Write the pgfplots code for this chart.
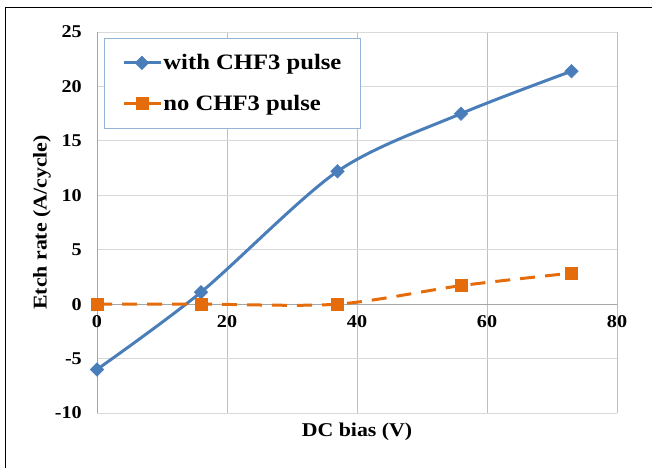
\documentclass[border=0pt]{standalone}
\usepackage{fontspec}
\setmainfont{Liberation Serif}[FakeStretch=1.12]
\usepackage{pgfplots}
\pgfplotsset{compat=1.18}
\definecolor{cblue}{HTML}{4A7EBB}
\definecolor{corange}{HTML}{E46C0A}
\definecolor{lgd}{HTML}{95B3D7}
\begin{document}
\begin{tikzpicture}[x=1pt,y=1pt]
\useasboundingbox (0,0) rectangle (652,467);
\draw[line width=1.6pt] (5.5,-5) -- (5.5,459.5) -- (660,459.5);
\begin{axis}[
  at={(97pt,54pt)}, anchor=south west, scale only axis,
  width=520pt, height=381pt,
  xmin=0, xmax=80, ymin=-10, ymax=25,
  xtick={0,20,40,60,80}, ytick={-10,-5,0,5,10,15,20,25},
  axis x line=middle, axis y line=left,
  hide obscured x ticks=false, hide obscured y ticks=false,
  axis line style={-, draw=black!35, line width=0.8pt},
  grid=major,
  x grid style={black!25, line width=0.8pt},
  y grid style={black!15, line width=0.8pt},
  major tick length=0pt,
  clip=false,
  /pgf/number format/assume math mode=true,
  ticklabel style={font=\fontsize{18}{20}\selectfont\bfseries},
  xticklabel style={anchor=north, inner sep=0pt, yshift=-11pt},
  yticklabel style={anchor=east, inner sep=0pt, xshift=-15pt},
  legend style={at={(rel axis cs:0.0135,0.984)}, anchor=north west,
    draw=lgd, line width=0.8pt, fill=white,
    font=\fontsize{22}{25}\selectfont\bfseries,
    inner xsep=18pt, inner ysep=15pt, row sep=22pt,
    nodes={inner sep=1pt}},
  legend cell align=left,
  legend image code/.code={\draw[mark repeat=2,mark phase=2,#1] plot coordinates {(0pt,0pt) (18pt,0pt) (37pt,0pt)};},
]
\addplot[cblue, line width=3pt, smooth, mark=square*, mark size=4.8pt,
  mark options={rotate=45, solid, fill=cblue, draw=cblue, line width=0.5pt}]
  coordinates {(0,-6) (16,1.1) (37,12.2) (56,17.5) (73,21.4)};
\addlegendentry{with CHF3 pulse}
\addplot[corange, line width=3pt, smooth, dash pattern=on 15pt off 10pt, mark=square*, mark size=6pt,
  mark options={solid, fill=corange, draw=corange, line width=0.5pt}]
  coordinates {(0,0) (16,0) (37,0) (56,1.7) (73,2.85)};
\addlegendentry{no CHF3 pulse}
\end{axis}
\node[rotate=90, font=\fontsize{19.5}{22}\selectfont\bfseries] at (42,244.5) {Etch rate (A/cycle)};
\node[font=\fontsize{19.5}{22}\selectfont\bfseries] at (357,35) {DC bias (V)};
\end{tikzpicture}
\end{document}
